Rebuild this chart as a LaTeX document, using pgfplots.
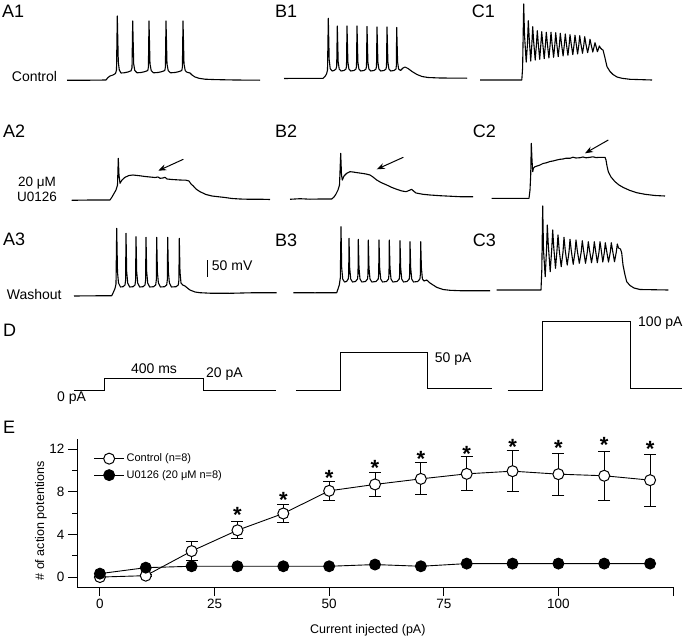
\documentclass[border=0pt]{standalone}
\usepackage{pgfplots}
\pgfplotsset{compat=1.18}
\usepackage{pgfplotstable}
\usepackage{fontspec}
\setmainfont{Liberation Sans}
\usetikzlibrary{arrows.meta}

\pgfplotstableread{
x y e
0 0.02 0
10 0.15 0.1
20 2.45 0.92
30 4.4 0.8
40 5.97 0.87
50 8.09 0.88
60 8.69 1.1
70 9.21 1.5
80 9.68 1.6
90 9.93 1.9
100 9.65 1.95
110 9.5 2.3
120 9.09 2.45
}\ctrl

\pgfplotstableread{
x y
0 0.34
10 0.9
20 1.03
30 1.03
40 1.03
50 1.03
60 1.19
70 1.03
80 1.28
90 1.28
100 1.28
110 1.28
120 1.28
}\uo

\pgfplotstableread{
x y
30 6.3
40 7.7
50 9.79
60 10.66
70 11.5
80 11.97
90 12.69
100 12.6
110 12.84
120 12.5
}\stars

\begin{document}
\begin{tikzpicture}
\useasboundingbox (0,0) rectangle (685pt,640pt);
\begin{axis}[name=base, at={(0pt,0pt)}, anchor=south west, scale only axis,
  width=685pt, height=640pt, xmin=0, xmax=685, ymin=0, ymax=640,
  y dir=reverse, hide axis, clip=false]
% ---- A1
\addplot[black, line width=1.1pt, line join=round] coordinates {
(67,80.3) (90,80.2) (106,80) (108,77.5) (110,76) (113,75) (115.5,73.5) (116.5,70) (117.3,16) (118.3,62) (119.3,70) (121,73) (124,72.8) (128,72) (131,70.8) (132,68) (132.7,21) (133.7,64) (134.8,70.5) (137,72.8) (141,72.5) (145,71.6) (147.8,70.5) (148.4,67) (149,21) (150,64) (151.2,70.5) (153.5,72.8) (158,72.5) (162,71.6) (164.8,70.5) (165.4,67) (166,21) (167,64) (168.2,70.5) (170.5,72.8) (175,72.5) (179,71.6) (181.8,70.5) (182.4,67) (183,21) (184,64) (185.2,70.5) (186.5,72) (188,72.5) (190,73) (192,75) (195,77) (199,78.3) (205,79.2) (215,79.6) (235,80) (260,80.2)};
% ---- B1
\addplot[black, line width=1.1pt, line join=round] coordinates {
(284,78.5) (300,78.3) (323,78.3) (325,76.5) (326.5,74) (327.5,70) (328.3,18.3) (329.2,60) (330.2,68.5) (332,71) (334,70.5) (336,69) (336.7,66) (337.3,26) (338.2,62) (339.2,69) (341,71) (344,70.5) (346,69) (346.5,66) (347,26) (347.9,62) (348.9,69) (350.7,71) (354,70.5) (356,69) (356.5,66) (357,26) (357.9,62) (358.9,69) (360.7,71) (364,70.5) (366,69) (366.5,66) (367,26.5) (367.9,62) (368.9,69) (370.7,71) (374,70.5) (376,69) (376.5,66) (377,27) (377.9,62) (378.9,69) (380.7,71) (384,70.5) (386,69) (386.5,66) (387,27) (387.9,62) (388.9,69) (390.7,71) (394,70.5) (396,69) (396.3,66) (396.7,27.5) (397.6,62) (398.6,69) (400.5,70.5) (403,68) (405,67) (408,68.5) (412,71.5) (417,74.5) (422,76.5) (428,77.5) (440,78) (467,78.2)};
% ---- C1
\addplot[black, line width=1.1pt, line join=round] coordinates {
(480,80) (500,80) (521.8,80) (522.6,68) (523.7,4) (524.5,35) (526.2,62) (527.4,45) (528.3,20.7) (529.3,40) (530.7,61) (531.8,45) (532.7,26.7) (533.7,42) (535.2,60) (536.4,45) (537.3,30.7) (538.3,44) (539.7,59.3) (540.8,45) (541.7,31.7) (542.8,44) (544.2,58.7) (545.4,45) (546.3,32.3) (547.4,44) (548.9,58) (550.1,45) (551,32.3) (552.1,44) (553.6,57.3) (554.8,45) (555.7,32.7) (556.8,44) (558.2,56.7) (559.4,45) (560.3,33.3) (561.5,44) (563.1,56) (564.3,45) (565.3,34) (566.4,44) (567.9,55.3) (569.1,45) (570,34.7) (571.2,44) (572.8,54.7) (574,45) (575,35.3) (576.2,44) (577.6,54) (578.8,45) (579.7,35.7) (580.9,44) (582.5,53.3) (583.8,45) (584.7,36.7) (585.9,44) (587.6,52.7) (589,46) (590,39.3) (591.2,45) (592.8,52) (594,47) (595,42.7) (596.2,47) (597.4,51.7) (598.4,49) (599.3,46) (600.5,48) (602,49.5) (603,50) (605,58) (607,66.7) (610,71.5) (613,74.5) (617,77) (622,78.3) (630,79.3) (652,80)};
% ---- A2
\addplot[black, line width=1.1pt, line join=round] coordinates {
(71.7,200.3) (90,200) (110,200) (112,197) (114,193.5) (116,190) (117.5,185) (118.3,158.3) (119,175) (120,183.3) (122,180) (125,177.3) (129,175.5) (133,175) (140,175.8) (145,176.5) (150,177) (155,177.5) (158,177) (160,178.3) (163,178) (165,177.3) (167,179) (172,179.5) (180,180) (186,180.2) (189,181) (191,184) (193.3,186) (196,189) (200,191.7) (206,194.5) (212,196) (218,196.7) (225,197.5) (232,198.5) (240,199) (250,199.3) (260,199.2) (270,199.5)};
% ---- B2
\addplot[black, line width=1.1pt, line join=round] coordinates {
(290,199.3) (300,198.7) (310,199.2) (320,199) (331.7,199) (334,197) (336,194) (338,190) (339.5,185) (340.7,153.3) (341.5,175) (342.3,180) (344,176) (346.7,173.3) (350,171.7) (353,172) (356,172.5) (361.7,173.3) (366,174) (370,175) (373,177) (376.7,180) (381,182.5) (386.7,185) (392,187.5) (396.7,189.3) (402,191) (406,191.7) (409,190.5) (411.7,189.3) (413.5,191) (416,193) (423,194.3) (430,195) (440,195.7) (450,196.2) (460,196.7) (473,196.7)};
% ---- C2
\addplot[black, line width=1.1pt, line join=round] coordinates {
(491.7,198.3) (510,198.3) (529,198.3) (530,190) (530.7,175) (531.3,143.3) (532,160) (532.7,171.7) (533.5,168) (535,166.7) (537,166) (540,165) (543,163.5) (546.7,162.7) (550,161.5) (553,161) (556.7,160) (560,159.3) (563,159) (566,158.2) (570,158.3) (573,157.2) (576,158) (580,157.7) (583,157) (586,157.8) (590,157.3) (593,156.8) (596,157.6) (600,157.3) (605,157.3) (606,160) (607,166) (608.3,171.7) (611,177) (615,181.7) (619,185) (623.3,187.5) (630,190.5) (636.7,192.7) (645,194.3) (655,195.5) (665,196)};
% ---- A3
\addplot[black, line width=1.1pt, line join=round] coordinates {
(74,296) (95,295.8) (111.7,295.7) (113.5,292) (115,288.5) (116,284) (116.7,228.3) (117.5,272) (118.5,283) (120.5,287) (123,286.7) (125,285) (125.6,280) (126,233.3) (126.7,272) (127.7,283) (129.7,287) (133,286.7) (135,285) (135.6,280) (136,236.7) (136.7,272) (137.7,283) (139.7,287) (143,286.7) (145,285) (145.6,280) (146,237.3) (146.7,272) (147.7,283) (149.7,287) (153.5,286.7) (155.7,285) (156.3,280) (156.7,237.3) (157.4,272) (158.4,283) (160.4,287) (164.5,286.7) (166.7,285) (167.3,280) (167.7,237.3) (168.4,272) (169.4,283) (171.4,287) (176,286.7) (178.3,285) (178.9,280) (179.3,238.3) (180,272) (181,283) (182.7,285) (185,286) (188,288.5) (190,290) (195,292) (200,292.7) (210,293.2) (230,293.3) (250,292.8) (276.7,292.7)};
% ---- B3
\addplot[black, line width=1.1pt, line join=round] coordinates {
(293.3,292.7) (315,292.8) (336.7,292.7) (338,289) (339.3,285) (340.3,278) (341,226.7) (341.7,268) (342.7,279) (344.5,282) (346.5,281.5) (348.2,279) (348.7,274) (349,238.3) (349.7,268) (350.7,279) (352.5,282) (355.5,281.5) (357.5,279) (358,274) (358.3,239.3) (359,268) (360,279) (361.8,282) (365.5,281.5) (367.5,279) (368,274) (368.3,240) (369,268) (370,279) (371.8,282) (376,281.5) (378.2,279) (378.7,274) (379,240) (379.7,268) (380.7,279) (382.5,282) (386.5,281.5) (388.5,279) (389,274) (389.3,240) (390,268) (391,279) (392.8,282) (397,281.5) (399.2,279) (399.7,274) (400,240.7) (400.7,268) (401.7,279) (403.5,282) (407,281.5) (409.2,279) (409.7,274) (410,241.7) (410.7,268) (411.7,279) (413.5,282) (417.7,281.5) (419.9,279) (420.4,274) (420.7,241.7) (421.4,268) (422.4,279) (424,281) (426.7,280) (430,283) (436.7,287.3) (443,289.5) (450,290.3) (460,290.7) (490,290.7)};
% ---- C3
\addplot[black, line width=1.1pt, line join=round] coordinates {
(496.7,290) (520,290) (541,290) (541.8,270) (542.7,206) (543.5,250) (545.2,276.7) (546.5,250) (547.3,225) (548.3,245) (550.2,271.7) (551.8,248) (552.7,230) (553.8,248) (555.5,268.3) (557,250) (558,235) (559.2,250) (561.2,266.7) (563,252) (564,237.3) (565.2,250) (567.2,265) (569,252) (570,239.3) (571.2,250) (573.2,264.3) (575,252) (576,240) (577.2,250) (579.3,263.3) (581.2,252) (582.3,240.7) (583.5,250) (585.5,263.3) (587.3,252) (588.3,241.7) (589.5,250) (591.5,262.7) (593.3,252) (594.3,241.7) (595.5,250) (597.3,262.7) (599,252) (600,241.7) (601.2,250) (602.8,262) (604.4,252) (605.3,242.7) (606.5,250) (608.5,262) (610.3,252) (611.3,242.7) (612.5,250) (614.5,261.7) (616.3,252) (617.3,244) (618.5,248) (620.5,249) (621.7,253) (623,265) (625,275) (626.7,281.7) (630,285.5) (634,288) (640,289.5) (668.3,290)};
% ---- arrows
\addplot[black, line width=1pt, -{Stealth[length=8pt,width=6pt]}] coordinates {(183.3,159.3) (158.3,170.7)};
\addplot[black, line width=1pt, -{Stealth[length=8pt,width=6pt]}] coordinates {(403.3,157.3) (376.7,169.3)};
\addplot[black, line width=1pt, -{Stealth[length=8pt,width=6pt]}] coordinates {(608.3,140) (585,153.3)};
% ---- scale bar
\addplot[black, line width=1pt] coordinates {(207.5,260) (207.5,277)};
% ---- panel D steps
\addplot[black, line width=1pt] coordinates {(74.3,390.6) (104,390.6) (104,378.5) (203.6,378.5) (203.6,390.2) (276,390.2)};
\addplot[black, line width=1pt] coordinates {(295.8,390.6) (340,390.6) (340,352.4) (427,352.4) (427,388.2) (492.3,388.2)};
\addplot[black, line width=1pt] coordinates {(507.6,390.6) (542.6,390.6) (542.6,321.5) (630.4,321.5) (630.4,388.2) (681.5,388.2)};
% ---- texts
\begin{scope}[every node/.style={inner sep=0pt, font=\fontsize{18}{20}\selectfont}]
\node[anchor=base west] at (axis cs:2,17.3) {A1};
\node[anchor=base west] at (axis cs:275,17.3) {B1};
\node[anchor=base west] at (axis cs:471.7,17.3) {C1};
\node[anchor=base west] at (axis cs:3,137.3) {A2};
\node[anchor=base west] at (axis cs:275,137.3) {B2};
\node[anchor=base west] at (axis cs:472.7,137.3) {C2};
\node[anchor=base west] at (axis cs:3,245) {A3};
\node[anchor=base west] at (axis cs:275,246) {B3};
\node[anchor=base west] at (axis cs:472.7,246) {C3};
\node[anchor=base west] at (axis cs:3,336) {D};
\node[anchor=base west] at (axis cs:3,433) {E};
\end{scope}
\begin{scope}[every node/.style={inner sep=0pt, font=\fontsize{14}{16}\selectfont}]
\node[anchor=base west] at (axis cs:11.7,81.7) {Control};
\node[anchor=base west] at (axis cs:6.7,299.5) {Washout};
\node[anchor=base west] at (axis cs:211.7,270) {50 mV};
\node[anchor=base] at (axis cs:154,373.5) {400 ms};
\node[anchor=base west] at (axis cs:206,377) {20 pA};
\node[anchor=base west] at (axis cs:57,401) {0 pA};
\node[anchor=base west] at (axis cs:434.7,362) {50 pA};
\node[anchor=base west] at (axis cs:638,326) {100 pA};
\end{scope}
\begin{scope}[every node/.style={inner sep=0pt, font=\fontsize{13.5}{15}\selectfont}]
\node[anchor=base west] at (axis cs:18,186.5) {20 μM};
\node[anchor=base west] at (axis cs:17,201) {U0126};
\end{scope}
\end{axis}

% ---- panel E
\begin{axis}[at={(77pt,53pt)}, anchor=south west, scale only axis,
  width=596pt, height=148pt,
  xmin=-5, xmax=125, ymin=-0.91, ymax=12.94,
  axis x line*=bottom, axis y line*=left,
  axis line style={line width=0.9pt},
  xtick={0,25,50,75,100,125}, xticklabels={0,25,50,75,100,},
  ytick={0,4,8,12}, minor ytick={2,6,10},
  tick align=outside, major tick length=9pt, minor tick length=5pt,
  every tick/.style={black, line width=0.9pt},
  /pgf/number format/assume math mode=true,
  tick label style={font=\fontsize{13.5}{15}\selectfont},
  label style={font=\fontsize{12.5}{14}\selectfont},
  xlabel={Current injected (pA)},
  ylabel={\# of action potentions},
  xlabel style={at={(axis description cs:0.488,-0.29)}, anchor=center},
  ylabel style={at={(axis description cs:-0.0604,0.446)}, anchor=center},
  clip=false,
  legend image code/.code={\draw[mark repeat=2,mark phase=2,#1] plot coordinates {(0pt,0pt) (15pt,0pt) (30pt,0pt)};},
  legend style={draw=none, fill=none, at={(axis cs:-1.4,11.75)}, anchor=north west,
    font=\fontsize{11}{13}\selectfont, row sep=3pt, inner sep=0pt},
  legend cell align=left,
]
\addplot[draw=none, mark=none, forget plot,
  error bars/.cd, y dir=both, y explicit,
  error bar style={draw=black, solid, line width=0.9pt},
  error mark options={draw=black, solid, rotate=90, mark size=6pt, line width=0.9pt}]
  table[x=x, y=y, y error=e] {\ctrl};
\addplot[black, line width=0.9pt, mark=*, mark size=5.5pt, mark options={fill=white, draw=black, line width=1pt}]
  table[x=x, y=y] {\ctrl};
\addlegendentry{Control (n=8)}
\addplot[black, line width=0.9pt, mark=*, mark size=5.5pt, mark options={fill=black, draw=black}]
  table[x=x, y=y] {\uo};
\addlegendentry{U0126 (20 μM n=8)}
\addplot[draw=none, mark=none, forget plot, nodes near coords={\textbf{*}},
  every node near coord/.append style={anchor=center, yshift=-4.8pt, inner sep=0pt, font=\fontsize{22}{22}\selectfont}]
  table[x=x, y=y] {\stars};
\end{axis}
\end{tikzpicture}
\end{document}
